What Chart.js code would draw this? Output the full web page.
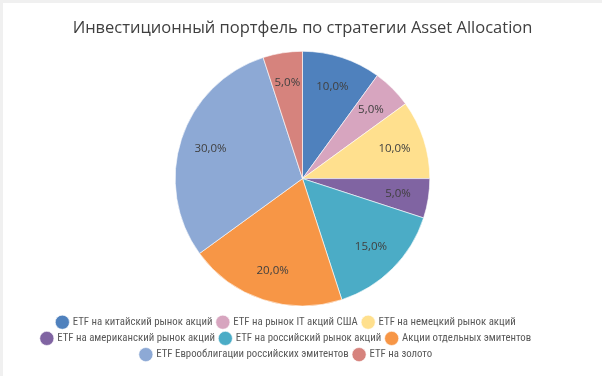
<!DOCTYPE html>
<html><head><meta charset="utf-8">
<script src="https://cdn.jsdelivr.net/npm/chart.js@4"></script>
<style>
html,body{margin:0;padding:0;background:#fff;}
#wrap{position:absolute;left:0;top:0;width:602px;height:376px;box-sizing:border-box;border-top:3px solid #f0f0f0;border-left:3px solid #f0f0f0;}
</style></head><body>
<div id="wrap"><canvas id="c"></canvas></div>
<script>
const categories = [
  "ETF на китайский рынок акций",
  "ETF на рынок IT акций США",
  "ETF на немецкий рынок акций",
  "ETF на американский рынок акций",
  "ETF на российский рынок акций",
  "Акции отдельных эмитентов",
  "ETF Еврооблигации российских эмитентов",
  "ETF на золото"
];
const shares = [10, 5, 10, 5, 15, 20, 30, 5];
const colors = ["#4F81BD","#D7A5BF","#FFE08E","#8064A2","#4BACC6","#F79646","#8DA9D5","#D6837D"];
const titleText = "Инвестиционный портфель по стратегии Asset Allocation";

const labelPlugin = {
  id: 'sliceLabels',
  afterLayout(chart) {
    const lg = chart.legend;
    if (lg) {
      lg.top += 5; lg.bottom += 5;
      lg.right -= 32; lg.width -= 32;
    }
  },
  afterDatasetsDraw(chart) {
    const ctx = chart.ctx;
    const meta = chart.getDatasetMeta(0);
    ctx.save();
    ctx.font = '11.5px "Open Sans", sans-serif';
    ctx.fillStyle = '#404040';
    ctx.textAlign = 'center';
    ctx.textBaseline = 'middle';
    meta.data.forEach((arc, i) => {
      const p = arc.getProps(['x','y','startAngle','endAngle','outerRadius'], true);
      const mid = (p.startAngle + p.endAngle) / 2;
      const r = p.outerRadius * 0.76;
      const v = shares[i].toFixed(1).replace('.', ',') + '%';
      ctx.fillText(v, p.x + Math.cos(mid) * r, p.y + Math.sin(mid) * r);
    });
    ctx.restore();
  }
};

new Chart(document.getElementById('c'), {
  type: 'pie',
  data: {
    labels: categories,
    datasets: [{ data: shares, backgroundColor: colors, borderColor: 'rgba(255,255,255,0.6)', borderWidth: 1 }]
  },
  options: {
    responsive: true,
    maintainAspectRatio: false,
    animation: false,
    layout: { padding: { left: 10, right: 10, top: 0, bottom: 11 } },
    plugins: {
      title: {
        display: true, text: titleText, color: '#404040',
        font: { family: '"Open Sans", sans-serif', size: 16.5, weight: 'normal' },
        padding: { top: 15, bottom: 13 }
      },
      legend: {
        position: 'bottom',
        maxWidth: 500,
        labels: {
          usePointStyle: true, pointStyle: 'circle', boxWidth: 10, boxHeight: 10,
          color: '#595959', padding: 5.4,
          font: { family: '"Roboto Condensed", Lato, sans-serif', size: 10.8 }
        }
      },
      tooltip: { enabled: false }
    }
  },
  plugins: [labelPlugin]
});
</script>
</body></html>
